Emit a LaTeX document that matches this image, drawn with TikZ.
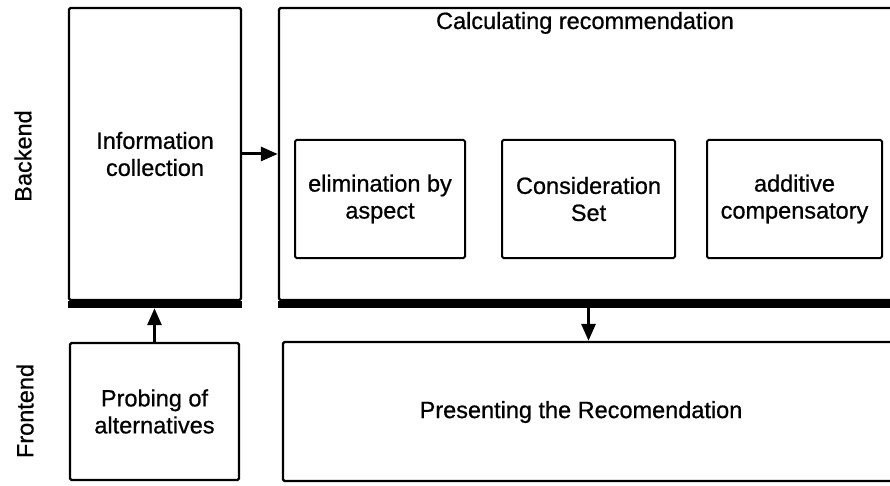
\documentclass[tikz,border=0pt]{standalone}
\usepackage{fontspec}
\setmainfont{Liberation Sans}[FakeBold=0.7]
\usetikzlibrary{arrows.meta}
\begin{document}
\begin{tikzpicture}[x=1pt,y=-1pt,
  every node/.style={font=\fontsize{23.5}{27}\selectfont, align=center, inner sep=0pt},
  bigbox/.style={draw, line width=2.4pt, rounded corners=1.5pt},
  subbox/.style={draw, line width=2pt, rounded corners=1.5pt},
  arr/.style={line width=3pt, -{Triangle[length=17pt,width=14pt]}},
  shadowband/.style={fill=black}]
\useasboundingbox (0,0) rectangle (890,486);
\clip (0,0) rectangle (890,486);
\fill[white] (0,0) rectangle (890,486);

% side labels
\node[rotate=90] (backend) at (23,156) {Backend};
\node[rotate=90] (frontend) at (25,411) {Frontend};

% backend boxes
\node[bigbox, minimum width=172pt, minimum height=292pt] (info) at (155,154) {Information\\collection};
\node[bigbox, minimum width=619pt, minimum height=292pt] (calc) at (588.5,154) {};
\node[anchor=base] (calctitle) at (585,29) {Calculating recommendation};

\node[subbox, minimum width=170pt, minimum height=118pt] (eba) at (380,199) {elimination by\\aspect};
\node[subbox, minimum width=173pt, minimum height=118pt] (cs) at (588.5,199) {Consideration\\Set};
\node[subbox, minimum width=175pt, minimum height=118pt] (ac) at (794.5,199) {additive\\compensatory};

% shadow bands
\fill[shadowband] (info.south west) rectangle ([yshift=-7pt]info.south east);
\fill[shadowband] (calc.south west) rectangle ([yshift=-7pt]calc.south east);
\coordinate (infob) at ([yshift=-7pt]info.south);
\coordinate (calcb) at ([yshift=-7pt]calc.south);

% frontend boxes
\node[bigbox, minimum width=169pt, minimum height=137pt] (probe) at (154.5,411.5) {Probing of\\alternatives};
\node[bigbox, minimum width=612pt, minimum height=139pt] (present) at (589,411.5) {};
\node (presenttext) at (581,412) {Presenting the Recomendation};

% connectors
\draw[arr] (info.east) -- (calc.west);
\draw[arr] (probe.north) -- (probe.north |- infob);
\draw[arr] (calcb) -- (calcb |- present.north);
\end{tikzpicture}
\end{document}
